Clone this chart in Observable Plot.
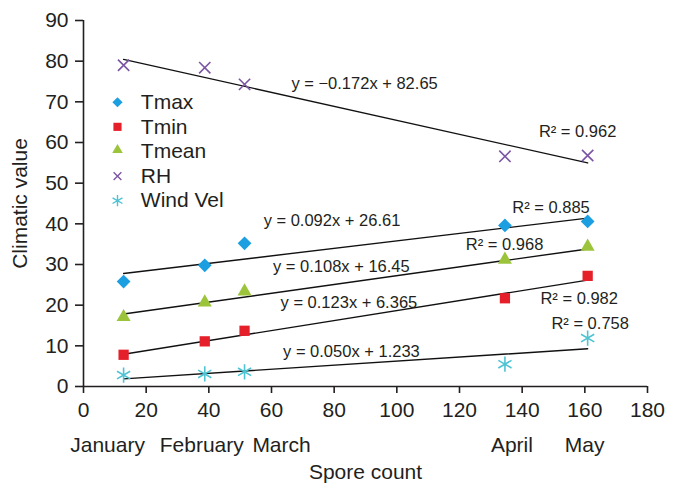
<!DOCTYPE html>
<html>
<head>
<meta charset="utf-8">
<script src="https://cdn.jsdelivr.net/npm/d3@7"></script>
<script src="https://cdn.jsdelivr.net/npm/@observablehq/plot@0.6"></script>
<style>
  html, body { margin: 0; padding: 0; background: #fff; }
</style>
</head>
<body>
<div id="chart"></div>
<script>
// ---- data ----
const months = ["January", "February", "March", "April", "May"];
const sporeCount = [12.8, 38.7, 51.4, 134.5, 160.9];
const tmax = [25.8, 29.8, 35.2, 39.6, 40.6];
const tmin = [7.8, 11.1, 13.7, 21.7, 27.2];
const tmean = [16.6, 20.2, 22.9, 30.7, 33.9];
const rh = [79.0, 78.4, 74.3, 56.6, 56.8];
const windVel = [2.8, 3.1, 3.6, 5.5, 11.9];

const seriesNames = ["Tmax", "Tmin", "Tmean", "RH", "Wind Vel"];
const slopes = [0.092, 0.123, 0.108, -0.172, 0.050];
const intercepts = [26.61, 6.365, 16.45, 82.65, 1.233];
const equationLabels = ["y = 0.092x + 26.61", "y = 0.123x + 6.365", "y = 0.108x + 16.45", "y = \u22120.172x + 82.65", "y = 0.050x + 1.233"];
const r2Labels = ["R\u00b2 = 0.885", "R\u00b2 = 0.982", "R\u00b2 = 0.968", "R\u00b2 = 0.962", "R\u00b2 = 0.758"];
const xTicks = [0, 20, 40, 60, 80, 100, 120, 140, 160, 180];
const yTicks = [0, 10, 20, 30, 40, 50, 60, 70, 80, 90];

// ---- styling / layout (not data) ----
const ink = "#231f20";
const styles = [
  {symbol: "diamond2", fill: "#1b9fe0", r: 6.2, lr: 4.6},
  {symbol: "square", fill: "#e6202b", r: 5.8, lr: 4.6},
  {symbol: "triangle", fill: "#9bc43b", r: 5.2, lr: 3.9, dy: -2},
  {symbol: "times", stroke: "#7b55a4", r: 5.2, lr: 3.6},
  {symbol: "asterisk", stroke: "#4ec3d2", r: 7.2, lr: 5.4}
];
// annotation anchor points (data coords)
const eqPos = [[79.3, 40.8], [84.7, 20.6], [82.3, 29.4], [89.7, 74.5], [85.5, 8.6]];
const r2Pos = [[149.2, 43.9], [158.2, 21.6], [134.4, 34.9], [157.7, 62.7], [161.7, 15.4]];
const monthDx = [-16, -3, 37, 7, -3];

const seriesValues = [tmax, tmin, tmean, rh, windVel];

const marks = [];
// axis lines
marks.push(Plot.ruleY([0], {stroke: ink, strokeWidth: 1.6}));
marks.push(Plot.ruleX([0], {stroke: ink, strokeWidth: 1.6}));
marks.push(Plot.axisX({ticks: xTicks, tickSize: 7, tickPadding: 9, label: null, strokeWidth: 1.6, fontSize: 21}));
marks.push(Plot.axisY({ticks: yTicks, tickSize: 8, tickPadding: 7, label: null, strokeWidth: 1.6, fontSize: 21}));

// trend lines from the printed equations
const xMin = d3.min(sporeCount), xMax = d3.max(sporeCount);
seriesNames.forEach((name, i) => {
  const pts = [xMin, xMax].map(x => ({x, y: slopes[i] * x + intercepts[i]}));
  marks.push(Plot.line(pts, {x: "x", y: "y", stroke: "#111", strokeWidth: 1.4}));
});

// points
seriesNames.forEach((name, i) => {
  const data = months.map((m, j) => ({month: m, x: sporeCount[j], y: seriesValues[i][j]}));
  const s = styles[i];
  const opts = {x: "x", y: "y", symbol: () => s.symbol, r: s.r};
  if (s.fill) { opts.fill = s.fill; opts.stroke = "none"; }
  else { opts.stroke = s.stroke; opts.strokeWidth = 1.6; opts.fill = "none"; }
  if (s.dy) opts.dy = s.dy;
  marks.push(Plot.dot(data, opts));
});

// equation and R² labels
seriesNames.forEach((name, i) => {
  marks.push(Plot.text([equationLabels[i]], {x: () => eqPos[i][0], y: () => eqPos[i][1], fontSize: 16.5, fill: ink}));
  marks.push(Plot.text([r2Labels[i]], {x: () => r2Pos[i][0], y: () => r2Pos[i][1], fontSize: 16.5, fill: ink}));
});

// legend inside the plot
seriesNames.forEach((name, i) => {
  const s = styles[i];
  const ly = 69.9 - i * 6.05;
  const opts = {x: () => 10.85, y: () => ly, symbol: () => s.symbol, r: s.lr};
  if (s.fill) { opts.fill = s.fill; opts.stroke = "none"; }
  else { opts.stroke = s.stroke; opts.strokeWidth = 1.4; opts.fill = "none"; }
  if (s.dy) opts.dy = s.dy * 0.75;
  marks.push(Plot.dot([name], opts));
  marks.push(Plot.text([name], {x: () => 18.3, y: () => ly, text: d => d, textAnchor: "start", fontSize: 21, fill: ink}));
});

// month labels under the axis
months.forEach((m, j) => {
  marks.push(Plot.text([m], {x: () => sporeCount[j], y: () => -14.5, text: d => d, dx: monthDx[j], fontSize: 21, fill: ink}));
});

// axis titles
marks.push(Plot.text(["Spore count"], {frameAnchor: "bottom", dy: 86, textAnchor: "middle", lineAnchor: "middle", text: d => d, fontSize: 21, fill: ink}));
marks.push(Plot.text(["Climatic value"], {frameAnchor: "left", dx: -63, rotate: -90, textAnchor: "middle", lineAnchor: "middle", text: d => d, fontSize: 21, fill: ink}));

const chart = Plot.plot({
  width: 677,
  height: 496,
  marginLeft: 83,
  marginRight: 30,
  marginTop: 20,
  marginBottom: 110,
  x: {domain: [0, 180]},
  y: {domain: [0, 90]},
  style: {fontFamily: "'Liberation Sans', Arial, sans-serif", fontSize: "21px", color: ink, background: "#fff", overflow: "visible"},
  marks
});
document.getElementById("chart").appendChild(chart);
</script>
</body>
</html>
